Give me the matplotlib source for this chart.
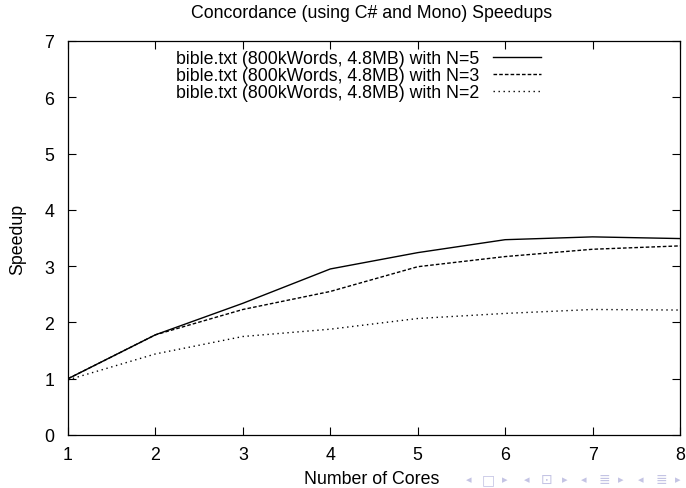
import matplotlib
matplotlib.use("Agg")
import matplotlib.pyplot as plt

cores = [1, 2, 3, 4, 5, 6, 7, 8]
speedup_n5 = [1.0, 1.78, 2.34, 2.95, 3.24, 3.47, 3.52, 3.49]
speedup_n3 = [1.0, 1.78, 2.23, 2.55, 2.99, 3.17, 3.30, 3.36]
speedup_n2 = [0.98, 1.44, 1.75, 1.88, 2.07, 2.16, 2.23, 2.22]
labels = ["bible.txt (800kWords, 4.8MB) with N=5",
          "bible.txt (800kWords, 4.8MB) with N=3",
          "bible.txt (800kWords, 4.8MB) with N=2"]
title = "Concordance (using C# and Mono) Speedups"
xlabel = "Number of Cores"
ylabel = "Speedup"
nav_glyphs = ["◂", "□", "▸", "◂", "⊡", "▸", "◂", "≣", "▸", "◂", "≣", "▸"]

plt.rcParams['font.family'] = ['Liberation Sans', 'DejaVu Sans']
fs = 12.8

fig = plt.figure(figsize=(6.86, 4.89), dpi=100)
W, H = 686, 489
left, right, top, bottom = 68, 680, 42, 436
ax = fig.add_axes([left / W, 1 - bottom / H, (right - left) / W, (bottom - top) / H])

ax.plot(cores, speedup_n5, color='black', lw=1.0, linestyle='-', label=labels[0])
ax.plot(cores, speedup_n3, color='black', lw=1.0, linestyle=(0, (2.6, 1.5)), label=labels[1])
ax.plot(cores, speedup_n2, color='black', lw=1.0, linestyle=(0, (1.0, 2.6)), label=labels[2])

ax.set_xlim(1, 8)
ax.set_ylim(0, 7)
ax.set_xticks(range(1, 9))
ax.set_yticks(range(0, 8))
ax.tick_params(direction='in', length=6, width=0.8, top=True, right=True,
               labelsize=fs, colors='black')
ax.tick_params(axis='x', pad=8)
ax.tick_params(axis='y', pad=10)
for s in ax.spines.values():
    s.set_linewidth(0.9)

ax.set_xlabel(xlabel, fontsize=fs)
ax.set_ylabel(ylabel, fontsize=fs)
ax.xaxis.set_label_coords(((372 - left) / (right - left)), -(480 - bottom) / (bottom - top), transform=ax.transAxes)
ax.yaxis.set_label_coords(-(left - 18) / (right - left), 0.5, transform=ax.transAxes)
ax.xaxis.label.set_va('center')
ax.yaxis.label.set_va('center')
fig.text(372 / W, 1 - 14 / H, title, ha='center', va='center', fontsize=fs)

leg = ax.legend(loc='upper right', bbox_to_anchor=(541 / W, 1 - 51 / H),
                bbox_transform=fig.transFigure, frameon=False, markerfirst=False,
                fontsize=fs, handlelength=2.7, handletextpad=0.8,
                labelspacing=0.0, borderpad=0, borderaxespad=0)

nav_x = [469, 488, 505, 527, 547, 565, 584, 604, 621, 641, 661, 678]
for gx, g in zip(nav_x, nav_glyphs):
    fig.text(gx / W, 1 - 480 / H, g, ha='center', va='center',
             fontsize=10 if g not in "◂▸" else 8, color='#c4c4e4', family=['DejaVu Sans'])

fig.savefig("out.png", dpi=100)
